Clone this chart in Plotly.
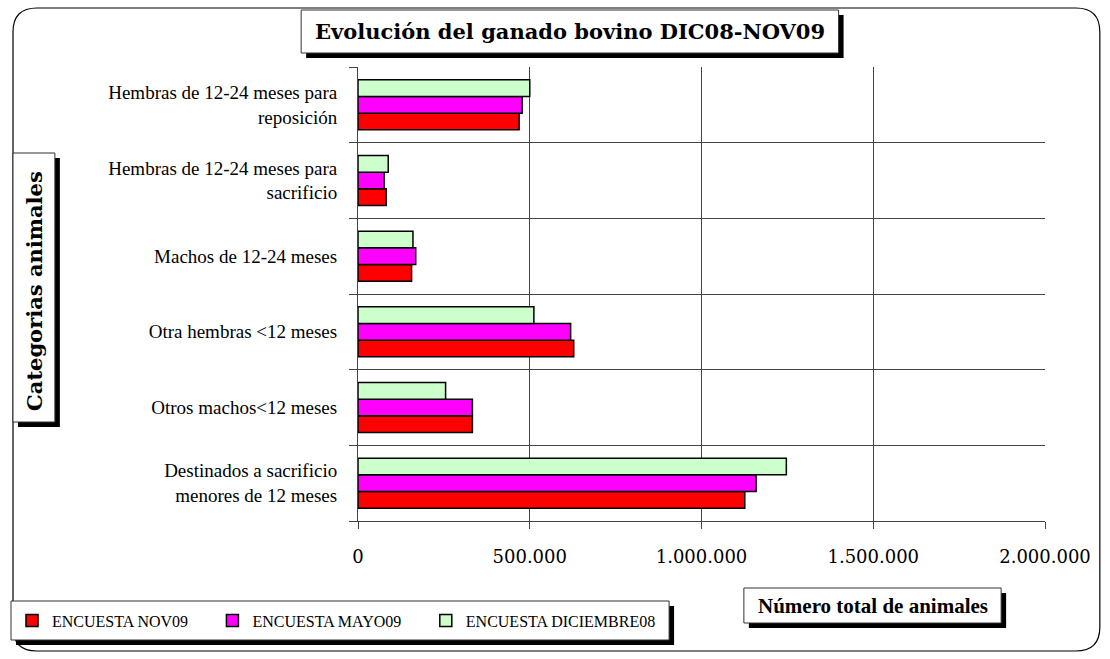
import plotly.graph_objects as go

# Categories (top-to-bottom as shown in the reference)
categories = [
    "Hembras de 12-24 meses para<br>reposición",
    "Hembras de 12-24 meses para<br>sacrificio",
    "Machos de 12-24 meses",
    "Otra hembras <12 meses",
    "Otros machos<12 meses",
    "Destinados a sacrificio<br>menores de 12 meses",
]
series_names = ["ENCUESTA NOV09", "ENCUESTA MAYO09", "ENCUESTA DICIEMBRE08"]
nov09 = [469000, 82000, 156000, 628000, 333000, 1126000]
mayo09 = [478000, 76000, 168000, 619000, 333000, 1159000]
dic08 = [500000, 88000, 160000, 512000, 255000, 1247000]
colors = ["#FF0000", "#FF00FF", "#CCFFCC"]
x_tickvals = [0, 500000, 1000000, 1500000, 2000000]
x_ticktext = ["0", "500.000", "1.000.000", "1.500.000", "2.000.000"]

W, H = 1110, 659
L, R, T, B = 356, 65, 67, 138
PW, PH = W - L - R, H - T - B


def px(x):
    return (x - L) / PW


def py(y):
    return (H - B - y) / PH


# bottom-to-top order for numeric y positions
cats_bt = categories[::-1]
ypos = list(range(len(cats_bt)))

legend_ids = ["legend", "legend2", "legend3"]
legend_x = [9, 210, 424]

fig = go.Figure()
for name, vals, col, lid in zip(series_names, [nov09, mayo09, dic08], colors, legend_ids):
    fig.add_trace(go.Bar(
        name=name, orientation="h", y=ypos, x=vals[::-1], legend=lid,
        marker=dict(color=col, line=dict(color="black", width=1.5)),
    ))

shapes = []


def box(x0, y0, x1, y1, off=5):
    shapes.append(dict(type="rect", xref="paper", yref="paper",
                       x0=px(x0 + off), x1=px(x1 + off), y0=py(y0 + off), y1=py(y1 + off),
                       fillcolor="black", line=dict(width=0), layer="above"))
    shapes.append(dict(type="rect", xref="paper", yref="paper",
                       x0=px(x0), x1=px(x1), y0=py(y0), y1=py(y1),
                       fillcolor="white", line=dict(color="#333", width=1), layer="above"))


# outer rounded frame
x0, y0, x1, y1, r = 10, 8, 1100, 651, 24
pts = (f"M {px(x0 + r)},{py(y0)} L {px(x1 - r)},{py(y0)} Q {px(x1)},{py(y0)} {px(x1)},{py(y0 + r)} "
       f"L {px(x1)},{py(y1 - r)} Q {px(x1)},{py(y1)} {px(x1 - r)},{py(y1)} "
       f"L {px(x0 + r)},{py(y1)} Q {px(x0)},{py(y1)} {px(x0)},{py(y1 - r)} "
       f"L {px(x0)},{py(y0 + r)} Q {px(x0)},{py(y0)} {px(x0 + r)},{py(y0)} Z")
shapes.append(dict(type="path", xref="paper", yref="paper", path=pts,
                   line=dict(color="black", width=1.2), layer="below"))

box(299, 10, 838, 53)      # title
box(10, 153, 52, 422)      # y title
box(8, 601, 668, 640)      # legend
box(743, 588, 1001, 623)   # x title

annotations = [
    dict(text="<b>Evolución del ganado bovino DIC08-NOV09</b>", xref="paper", yref="paper",
         x=px(568.5), y=py(31.5), showarrow=False, xanchor="center", yanchor="middle",
         font=dict(family="DejaVu Serif", size=21, color="black")),
    dict(text="<b>Categorias animales</b>", xref="paper", yref="paper",
         x=px(31), y=py(291), showarrow=False, textangle=-90, xanchor="center", yanchor="middle",
         font=dict(family="DejaVu Serif", size=21, color="black")),
    dict(text="<b>Número total de animales</b>", xref="paper", yref="paper",
         x=px(872), y=py(605.5), showarrow=False, xanchor="center", yanchor="middle",
         font=dict(family="Liberation Serif", size=21, color="black")),
]

legend_style = dict(orientation="h", xanchor="left", yanchor="middle",
                    bgcolor="rgba(0,0,0,0)", borderwidth=0,
                    font=dict(family="Liberation Serif", size=16, color="black"))

fig.update_layout(
    width=W, height=H,
    margin=dict(l=L, r=R, t=T, b=B, pad=0),
    paper_bgcolor="white", plot_bgcolor="white",
    barmode="group", bargap=0.34, bargroupgap=0,
    shapes=shapes, annotations=annotations,
    showlegend=True,
    legend=dict(x=px(legend_x[0]), y=py(620.5), **legend_style),
    legend2=dict(x=px(legend_x[1]), y=py(620.5), **legend_style),
    legend3=dict(x=px(legend_x[2]), y=py(620.5), **legend_style),
    xaxis=dict(range=[0, 2000000], tickvals=x_tickvals, ticktext=x_ticktext,
               showgrid=True, gridcolor="#444", gridwidth=1,
               showline=True, linecolor="#444", linewidth=1,
               ticks="outside", ticklen=7, tickcolor="#444",
               zeroline=False, ticklabelstandoff=12,
               tickfont=dict(family="DejaVu Serif", size=18, color="black")),
    yaxis=dict(range=[-0.5, 5.5], tickvals=ypos, ticktext=cats_bt,
               showgrid=False, zeroline=False,
               showline=True, linecolor="#444", linewidth=1,
               ticks="", ticklabelstandoff=16,
               minor=dict(tickvals=[-0.5, 0.5, 1.5, 2.5, 3.5, 4.5, 5.5], showgrid=True,
                          gridcolor="#444", gridwidth=1, ticks="outside", ticklen=8,
                          tickcolor="#444"),
               tickfont=dict(family="Liberation Serif", size=19, color="black")),
)

fig.write_html("out.html", config={"displayModeBar": False},
               post_script="document.body.style.margin='0';document.body.style.overflow='hidden';")
